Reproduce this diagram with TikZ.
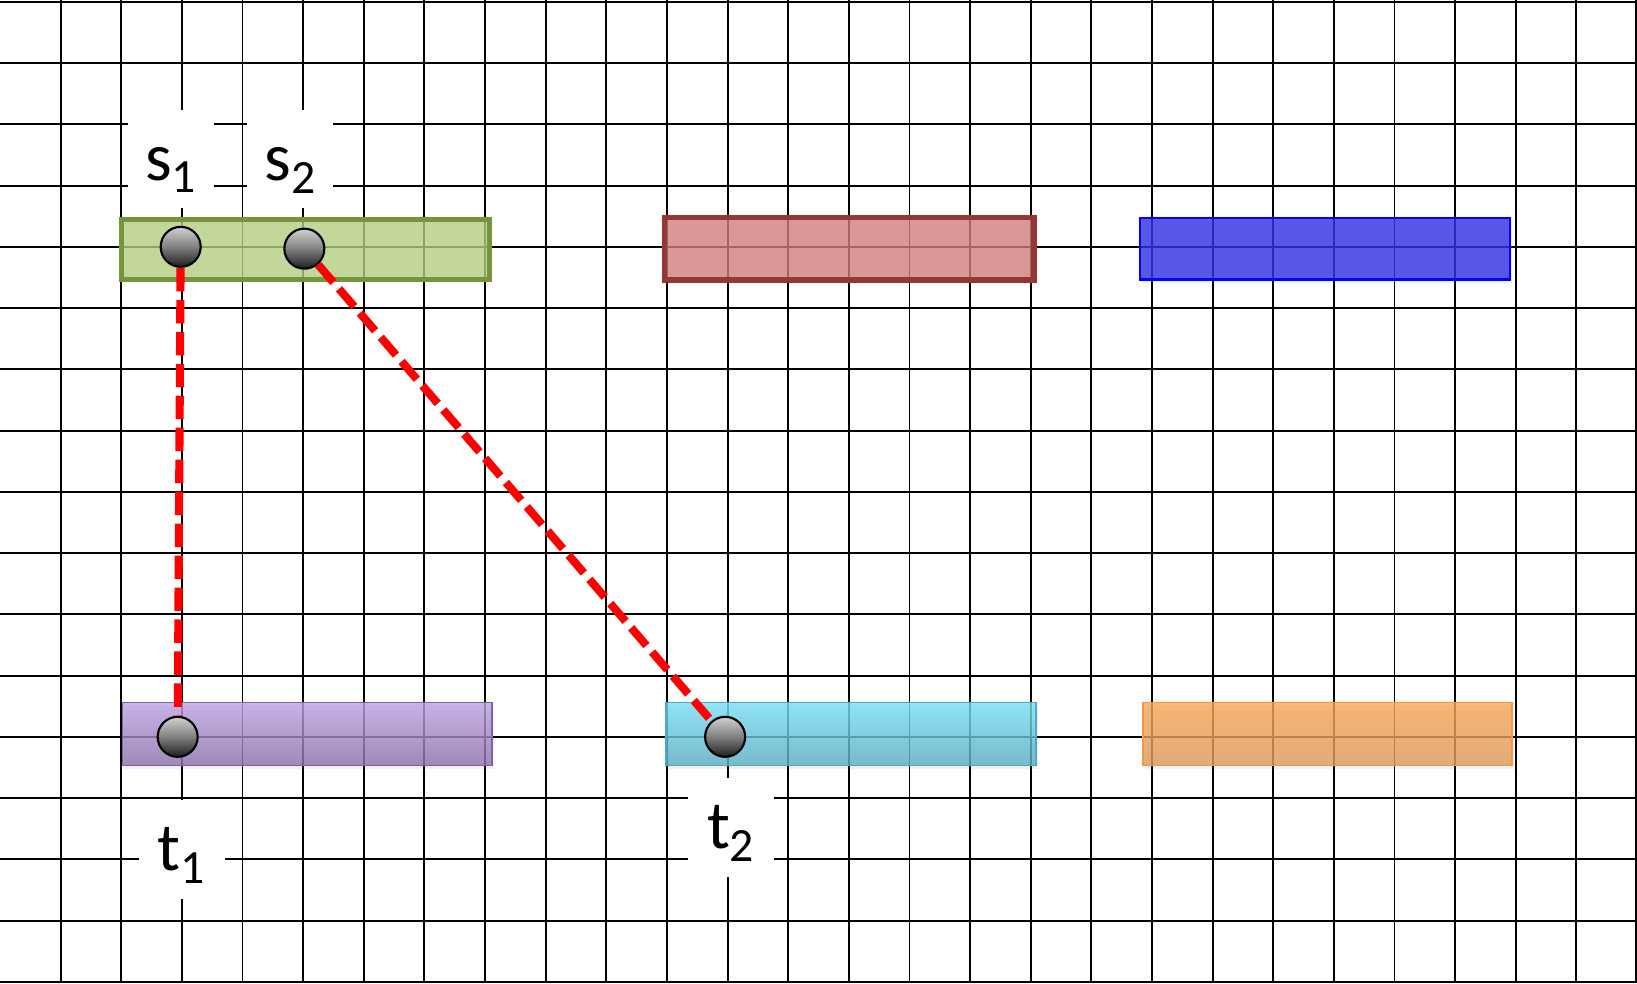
\documentclass[tikz,border=0pt]{standalone}
\usepackage{fontspec}
\setmainfont{Carlito}
\usetikzlibrary{shadows}

\definecolor{grnfill}{HTML}{B5CD82}
\definecolor{grnline}{HTML}{77933C}
\definecolor{redfill}{HTML}{D07D7A}
\definecolor{redline}{HTML}{953735}
\definecolor{bluefill}{HTML}{3131E2}
\definecolor{blueline}{HTML}{0000FF}
\definecolor{purtop}{HTML}{BCA3E4}
\definecolor{purbot}{HTML}{8D70AB}
\definecolor{purline}{HTML}{8064A2}
\definecolor{cyantop}{HTML}{78E0F6}
\definecolor{cyanbot}{HTML}{5AACC4}
\definecolor{cyanline}{HTML}{4BACC6}
\definecolor{orgtop}{HTML}{FAA655}
\definecolor{orgbot}{HTML}{DC9A5B}
\definecolor{orgline}{HTML}{F79646}

\begin{document}
\begin{tikzpicture}[x=1cm, y=1.0102cm,
  gridline/.style={black, line width=0.9pt},
  bar/.style={rectangle, inner sep=0pt, minimum width=6.08cm, minimum height=1.02cm, fill opacity=0.8},
  barshadow/.style={drop shadow={opacity=0.12, shadow xshift=0.03cm, shadow yshift=-0.05cm}},
  pin/.style={circle, draw=black, line width=1pt, minimum size=0.66cm, inner sep=0pt,
    top color=black!18, bottom color=black!88, middle color=black!50},
  tag/.style={fill=white, inner sep=0pt, minimum width=1.42cm, minimum height=1.62cm,
    text height=1.16cm, text depth=0.46cm, font=\fontsize{32}{38}\selectfont},
  route/.style={red, line width=3.8pt, dash pattern=on 11pt off 4pt}]

\useasboundingbox (0,-0.021) rectangle (27,16.03);

% =========================
% GRID
% =========================
\foreach \gx in {1,...,26}
  \draw[gridline] (\gx,-0.021) -- (\gx,16.03);
\draw[gridline] (26.985,-0.021) -- (26.985,16.03);
\foreach \gy in {0,...,16}
  \draw[gridline] (0,\gy) -- (27,\gy);

% =========================
% TOP ROW
% =========================
\node[bar, fill=grnfill, draw=grnline, draw opacity=1, line width=2.4pt,
  minimum width=6.07cm, minimum height=1.0cm] (grn) at (5.035,11.955) {};
\node[bar, fill=redfill, draw=redline, draw opacity=1, line width=2.6pt,
  minimum width=6.09cm, minimum height=1.03cm] (rd) at (14.005,11.97) {};
\node[bar, barshadow, fill=bluefill, draw=blueline, draw opacity=1, line width=1.1pt,
  minimum width=6.11cm] (blu) at (21.855,11.97) {};

% =========================
% BOTTOM ROW
% =========================
\node[bar, barshadow, top color=purtop, bottom color=purbot, draw=purline, draw opacity=1,
  line width=0.8pt, minimum width=6.1cm, minimum height=1.04cm] (pur) at (5.07,4.045) {};
\node[bar, barshadow, top color=cyantop, bottom color=cyanbot, draw=cyanline, draw opacity=1,
  line width=0.8pt, minimum width=6.11cm, minimum height=1.04cm] (cyn) at (14.035,4.045) {};
\node[bar, barshadow, top color=orgtop, bottom color=orgbot, draw=orgline, draw opacity=1,
  line width=0.8pt, minimum width=6.09cm, minimum height=1.04cm] (org) at (21.895,4.045) {};

% =========================
% LABELS
% =========================
\node[tag] (lbls1) at (2.82,13.43) {s\textsubscript{1}};
\node[tag] (lbls2) at (4.79,13.43) {s\textsubscript{2}};
\node[tag] (lblt1) at (3.0,2.16) {t\textsubscript{1}};
\node[tag] (lblt2) at (12.06,2.52) {t\textsubscript{2}};

% =========================
% TERMINALS AND ROUTES
% =========================
\node[pin] (s1) at (2.98,12) {};
\node[pin] (s2) at (5.02,11.97) {};
\node[pin] (t1) at (2.93,4) {};
\node[pin] (t2) at (11.96,4) {};

\draw[route] (s1) -- (t1);
\draw[route] (s2) -- (t2);

\end{tikzpicture}
\end{document}
